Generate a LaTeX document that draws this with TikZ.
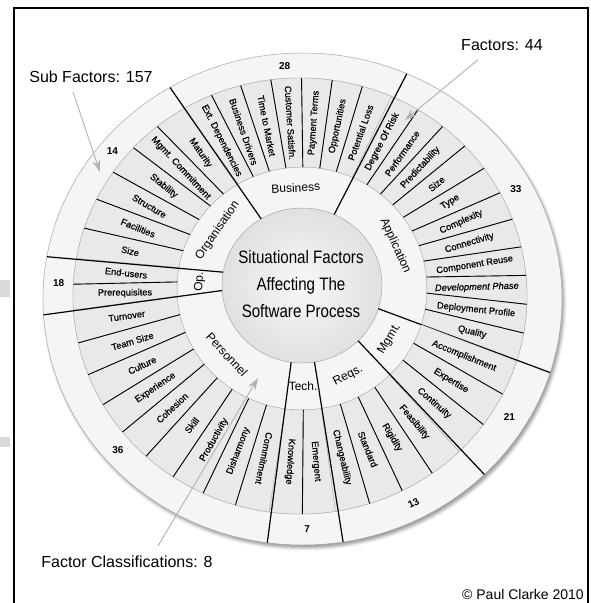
\documentclass[tikz,border=0pt]{standalone}
\usepackage{fontspec}
\setmainfont{Liberation Sans}
\newfontfamily\narrowfont[FakeStretch=0.84]{Liberation Sans}
\newfontfamily\tilefont[FakeBold=0.5]{Liberation Sans}
\usetikzlibrary{calc}
\usetikzlibrary{arrows.meta}
\usetikzlibrary{shadows.blur}
\tikzset{
  ring/.style={draw=gray!70, line width=0.5pt},
  tile/.style={fill=gray!17, draw=gray!60, line width=0.4pt},
  boundary/.style={line width=1.2pt, black},
  divider/.style={line width=0.9pt, black},
  subfactor/.style={font=\tilefont\fontsize{9.3}{10}\selectfont, inner sep=0pt},
  classname/.style={font=\fontsize{12}{13}\selectfont, inner sep=0pt},
  tally/.style={font=\bfseries\fontsize{10}{11}\selectfont, inner sep=0pt},
  callout/.style={font=\fontsize{16}{18}\selectfont, inner sep=0pt},
  pointer/.style={draw=gray!60, line width=0.9pt, -{Stealth[length=12pt, width=8pt]}}
}

\begin{document}
\begin{tikzpicture}[x=1pt, y=1pt]
\useasboundingbox (-302,-307) rectangle (288,296);

% page frame
\draw [line width=1.1pt] (-288,-307) -- (-288,288) -- (286,288) -- (286,-307);
\fill [gray!30] (-302,-1) rectangle (-292,16);
\fill [gray!30] (-302,-151) rectangle (-292,-141);

% rings, outside in
\path [fill=gray!8, blur shadow={shadow xshift=2pt, shadow yshift=-3pt, shadow blur radius=3pt}] (0.5,-3) ellipse [x radius=259.5, y radius=246];
\draw [ring] (0.5,-3) ellipse [x radius=259.5, y radius=246];
\draw [ring, fill=gray!12] (-2,0) ellipse [x radius=227, y radius=218];
\draw [ring, fill=gray!8] (0,7.5) ellipse [x radius=125, y radius=121.5];
\shade [inner color=gray!6, outer color=gray!24] (0,10.5) ellipse [x radius=80, y radius=77.5];
\draw [ring] (0,10.5) ellipse [x radius=80, y radius=77.5];

\foreach \from/\to/\n/\cls/\tally/\tallyang/\tallytilt/\items in {
  -17.4/66.3/11/Application/33/27.9/0/{Quality,Deployment Profile,\itshape Development Phase,Component Reuse,Connectivity,Complexity,Type,Size,Predictability,Performance,Degree Of Risk},
  66.3/120.7/7/Business/28/93.9/0/{Potential Loss,Opportunities,Payment Terms,Customer Satisfn.,Time to Market,Business Drivers,Ext. Dependencies},
  120.7/170.1/6/Organisation/14/141/0/{Maturity,Mgmt. Commitment,Stability,Structure,Facilities,Size},
  170.1/183.7/2/Op./18/176.4/0/{End-users,Prerequisites},
  183.7/262.2/9/Personnel/36/221/0/{Turnover,Team Size,Culture,Experience,Cohesion,Skill,Productivity,Disharmony,Commitment},
  262.2/279/2/Tech./7/271.4/0/{Knowledge,Emergent},
  279/314.5/4/Reqs./13/297.5/27/{Changeability,Standard,Rigidity,Feasibility},
  314.5/342.6/3/Mgmt./21/328.9/0/{Continuity,Expertise,Accomplishment}} {
  \pgfmathsetmacro\wedge{(\to-\from)/\n}
  \foreach \sublabel [count=\k] in \items {
    \pgfmathsetmacro\angA{\from+(\k-1)*\wedge}
    \pgfmathsetmacro\angB{\angA+\wedge}
    \pgfmathsetmacro\angM{\angA+\wedge/2}
    \pgfmathsetmacro\tilt{ifthenelse(and(mod(\angM+360,360)>=90, mod(\angM+360,360)<256), \angM+180, \angM)}
    \filldraw [tile] ([shift={(-2,0)}]\angA:227 and 218) arc [start angle=\angA, end angle=\angB, x radius=227, y radius=218]
      -- ([shift={(0,7.5)}]\angB:125 and 121.5) arc [start angle=\angB, end angle=\angA, x radius=125, y radius=121.5] -- cycle;
    \ifnum\k>1
      \draw [divider] ([shift={(0,7.5)}]\angA:125 and 121.5) -- ([shift={(-2,0)}]\angA:227 and 218);
    \fi
    \node (sub\tally-\k) [subfactor, rotate=\tilt] at ([shift={(-1,3.75)}]\angM:176 and 169.75) {\sublabel};
  }
  \draw [boundary] ([shift={(0,10.5)}]\from:80 and 77.5) -- ([shift={(0.5,-3)}]\from:259.5 and 246);
  \pgfmathsetmacro\angC{(\from+\to)/2}
  \pgfmathsetmacro\turn{ifthenelse(mod(\angC+360,360)<=180, \angC-90, \angC+90)}
  \node (cls\tally) [classname, rotate=\turn] at ([shift={(0,9)}]\angC:102.5 and 99.5) {\cls};
  \node (num\tally) [tally, rotate=\tallytilt] at ([shift={(-0.75,-1.5)}]\tallyang:243 and 232) {\tally};
}

\node (hub) [align=center, font=\narrowfont\fontsize{18}{27}\selectfont] at (-1,12) {Situational Factors\\Affecting The\\Software Process};

% callouts
\node (subcount) [callout] at (-211,219) {Sub Factors: 157};
\coordinate (subtip) at (-202,124);
\draw [pointer] ([xshift=-18pt, yshift=-9pt]subcount.south) -- (subtip);

\node (factcount) [callout] at (200,251) {Factors: 44};
\coordinate (facttip) at (103,176);
\draw [pointer] ([xshift=-24pt, yshift=-9pt]factcount.south) -- (facttip);

\node (classcount) [callout] at (-175,-266) {Factor Classifications: 8};
\coordinate (classtip) at (-44,-82);
\draw [pointer] ([xshift=31pt, yshift=10pt]classcount.north) -- (classtip);

\node (credit) [font=\fontsize{14}{16}\selectfont, inner sep=0pt] at (221,-298) {\textcopyright{} Paul Clarke 2010};

\end{tikzpicture}
\end{document}
